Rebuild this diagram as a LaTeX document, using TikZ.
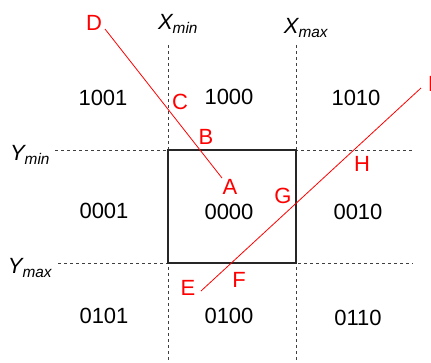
\documentclass[tikz,border=0pt]{standalone}
\usepackage{fontspec}
\setmainfont{Liberation Sans}
\begin{document}
\begin{tikzpicture}[x=1pt,y=-1pt,
  every node/.style={font=\fontsize{22}{24}\selectfont, inner sep=0pt},
  code/.style={text=black},
  pt/.style={text=red},
  axlab/.style={text=black, font=\fontsize{22}{24}\selectfont\itshape},
  grid/.style={dashed, line width=0.8pt, black!75, dash pattern=on 3pt off 3pt},
  win/.style={line width=1.2pt, black!85},
  seg/.style={red, line width=0.8pt}]
\clip (0,0) rectangle (431,362);
\useasboundingbox (0,0) rectangle (431,362);
% grid lines
\coordinate (xmint) at (168,45);
\coordinate (xminb) at (168,362);
\coordinate (xmaxt) at (296,45);
\coordinate (xmaxb) at (296,362);
\coordinate (ymins) at (55,150);
\coordinate (ymine) at (413,150);
\coordinate (ymaxs) at (58,263);
\coordinate (ymaxe) at (413,263);
\draw[grid] (xmint) -- (xminb);
\draw[grid] (xmaxt) -- (xmaxb);
\draw[grid] (ymins) -- (ymine);
\draw[grid] (ymaxs) -- (ymaxe);
\draw[win] (168,150) rectangle (296,263);
% segments
\coordinate (d0) at (105,29);
\coordinate (a0) at (222,178);
\coordinate (e0) at (201,291);
\coordinate (i0) at (421,88);
\draw[seg] (d0) -- (a0);
\draw[seg] (e0) -- (i0);
% axis labels
\node[axlab] (xmin) at (178,24) {X\textsubscript{min}};
\node[axlab] (xmax) at (306,28) {X\textsubscript{max}};
\node[axlab] (ymin) at (30,155) {Y\textsubscript{min}};
\node[axlab] (ymax) at (30,268) {Y\textsubscript{max}};
% region codes
\node[code] (c1001) at (103,98) {1001};
\node[code] (c1000) at (229,97) {1000};
\node[code] (c1010) at (356,98) {1010};
\node[code] (c0001) at (104,211) {0001};
\node[code] (c0000) at (229,212) {0000};
\node[code] (c0010) at (358,212) {0010};
\node[code] (c0101) at (104,316) {0101};
\node[code] (c0100) at (229,316) {0100};
\node[code] (c0110) at (358,318) {0110};
% point labels
\node[pt] (D) at (94,23) {D};
\node[pt] (C) at (180,102) {C};
\node[pt] (B) at (206,137) {B};
\node[pt] (H) at (362,164) {H};
\node[pt] (A) at (230,187) {A};
\node[pt] (G) at (283,196) {G};
\node[pt] (E) at (188,288) {E};
\node[pt] (F) at (239,280) {F};
\node[pt] (I) at (431,84) {I};
\end{tikzpicture}
\end{document}
